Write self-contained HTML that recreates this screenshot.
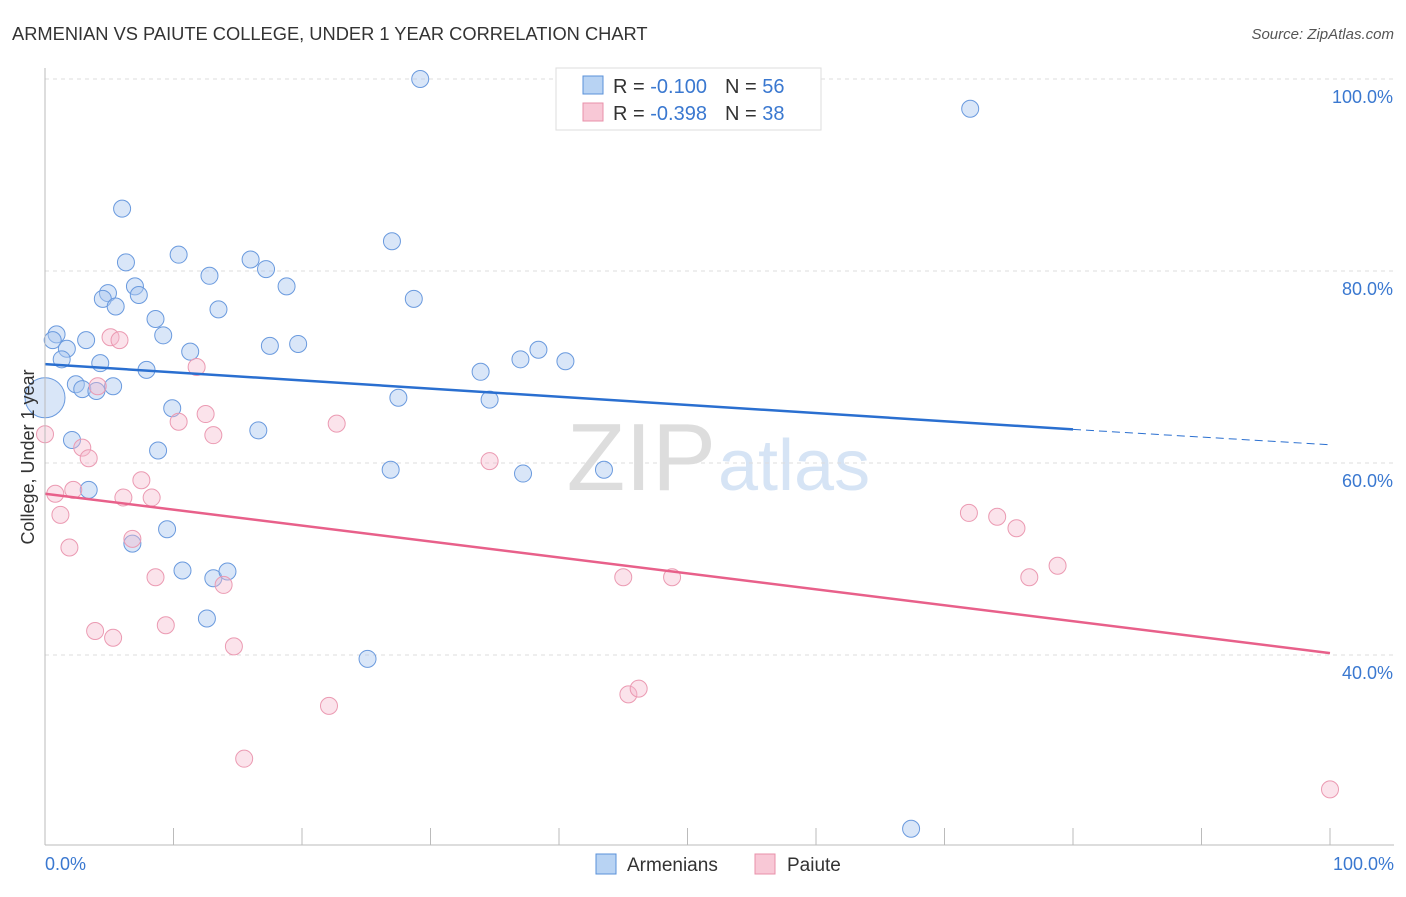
<!DOCTYPE html>
<html><head><meta charset="utf-8"><style>
body{margin:0;background:#fff;font-family:"Liberation Sans",sans-serif}
svg text{font-family:"Liberation Sans",sans-serif}
</style></head><body>
<svg id="c" width="1406" height="892">
<text x="12" y="40" font-size="18.3" fill="#333">ARMENIAN VS PAIUTE COLLEGE, UNDER 1 YEAR CORRELATION CHART</text>
<text x="1394" y="39" font-size="15" fill="#555" font-style="italic" text-anchor="end">Source: ZipAtlas.com</text>
<text x="716" y="490" font-size="96" fill="#ddd" text-anchor="end" font-family="Liberation Serif">ZIP</text>
<text x="718" y="490" font-size="72" fill="#d6e4f5">atlas</text>
<g id="grid"></g><g id="pts"></g><g id="lines"></g>
<line x1="45" y1="68" x2="45" y2="845" stroke="#bbb"/>
<line x1="45" y1="845" x2="1394" y2="845" stroke="#bbb"/>
<text x="34" y="457" font-size="18" fill="#333" text-anchor="middle" transform="rotate(-90 34 457)">College, Under 1 year</text>
<text x="45" y="870" font-size="18" fill="#3a78d0">0.0%</text>
<text x="1394" y="870" font-size="18" fill="#3a78d0" text-anchor="end">100.0%</text>
<g>
<rect x="556" y="68" width="265" height="62" fill="#fff" stroke="#ddd"/>
<rect x="583" y="76" width="20" height="18" fill="#b8d3f3" stroke="#5a90d8"/>
<rect x="583" y="103" width="20" height="18" fill="#f8c8d6" stroke="#e890aa"/>
<text x="613" y="93" font-size="20" fill="#333">R = <tspan fill="#3a78d0">-0.100</tspan><tspan dx="18">N = </tspan><tspan fill="#3a78d0">56</tspan></text>
<text x="613" y="120" font-size="20" fill="#333">R = <tspan fill="#3a78d0">-0.398</tspan><tspan dx="18">N = </tspan><tspan fill="#3a78d0">38</tspan></text>
</g>
<g>
<rect x="596" y="854" width="20" height="20" fill="#b8d3f3" stroke="#5a90d8"/>
<text x="627" y="871" font-size="19" fill="#333">Armenians</text>
<rect x="755" y="854" width="20" height="20" fill="#f8c8d6" stroke="#e890aa"/>
<text x="787" y="871" font-size="19" fill="#333">Paiute</text>
</g>
</svg>
<script>
const yTicks=[40,60,80,100];
const yTickLabels=["40.0%","60.0%","80.0%","100.0%"];
const xTicks=[0,10,20,30,40,50,60,70,80,90,100];
const armX=[29.2,72,6,27,10.4,6.3,16,12.8,17.2,18.8,7,4.9,4.5,7.3,5.5,28.7,13.5,8.6,0.9,0.6,3.2,9.2,1.7,1.3,4.3,11.3,17.5,19.7,7.9,33.9,37,38.4,40.5,2.4,2.9,4,5.3,27.5,34.6,9.9,0,16.6,2.1,8.8,26.9,37.2,43.5,3.4,9.5,6.8,10.7,13.1,14.2,12.6,25.1,67.4];
const armY=[100,96.9,86.5,83.1,81.7,80.9,81.2,79.5,80.2,78.4,78.4,77.7,77.1,77.5,76.3,77.1,76,75,73.4,72.8,72.8,73.3,71.9,70.8,70.4,71.6,72.2,72.4,69.7,69.5,70.8,71.8,70.6,68.2,67.7,67.5,68,66.8,66.6,65.7,66.8,63.4,62.4,61.3,59.3,58.9,59.3,57.2,53.1,51.6,48.8,48,48.7,43.8,39.6,21.9];
const paiX=[0,5.1,5.8,11.8,4.1,12.5,10.4,13.1,22.7,2.9,3.4,34.6,7.5,0.8,2.2,6.1,8.3,1.2,6.8,1.9,8.6,13.9,3.9,9.4,5.3,14.7,22.1,15.5,45,48.8,45.4,46.2,71.9,74.1,75.6,76.6,78.8,100];
const paiY=[63,73.1,72.8,70,68,65.1,64.3,62.9,64.1,61.6,60.5,60.2,58.2,56.8,57.2,56.4,56.4,54.6,52.1,51.2,48.1,47.3,42.5,43.1,41.8,40.9,34.7,29.2,48.1,48.1,35.9,36.5,54.8,54.4,53.2,48.1,49.3,26.0];
const armLine=[70.3,63.5,61.9]; // at x=0,80,100
const paiLine=[56.8,40.2]; // at x=0,100
const X=v=>45+v*12.85, Y=v=>79+(100-v)*9.6;
const NS="http://www.w3.org/2000/svg";
function mk(tag,a,p){const e=document.createElementNS(NS,tag);for(const k in a)e.setAttribute(k,a[k]);p.appendChild(e);return e;}
const grid=document.getElementById('grid');
yTicks.forEach((t,i)=>{
 const l=mk('line',{x1:45,x2:1394,y1:Y(t),y2:Y(t),stroke:'#ddd','stroke-dasharray':'4,4'},grid);
 
 
 const tx=mk('text',{x:1393,y:Y(t)+24,'font-size':18,fill:'#3a78d0','text-anchor':'end'},grid);
 tx.textContent=yTickLabels[i];
 
 
});
xTicks.forEach(t=>{
 const l=mk('line',{x1:X(t),x2:X(t),y1:828,y2:845,stroke:'#bbb'},grid);
 
 
});
const pts=document.getElementById('pts');
armX.forEach((v,i)=>{
 const c=mk('circle',{cx:X(v),cy:Y(armY[i]),r:(i==40?20:8.5),fill:'rgba(170,200,240,0.45)',stroke:'#6a9ade','stroke-width':1},pts);
 
 
});
paiX.forEach((v,i)=>{
 const c=mk('circle',{cx:X(v),cy:Y(paiY[i]),r:8.5,fill:'rgba(245,185,205,0.4)',stroke:'#eb9ab2','stroke-width':1},pts);
 
 
});
const lines=document.getElementById('lines');
let a=mk('line',{x1:X(0),y1:Y(armLine[0]),x2:X(80),y2:Y(armLine[1]),stroke:'#2a6fd0','stroke-width':2.5},lines);


a=mk('line',{x1:X(80),y1:Y(armLine[1]),x2:X(100),y2:Y(armLine[2]),stroke:'#2a6fd0','stroke-width':1,'stroke-dasharray':'8,5'},lines);


a=mk('line',{x1:X(0),y1:Y(paiLine[0]),x2:X(100),y2:Y(paiLine[1]),stroke:'#e8608a','stroke-width':2.5},lines);


</script>
</body></html>
